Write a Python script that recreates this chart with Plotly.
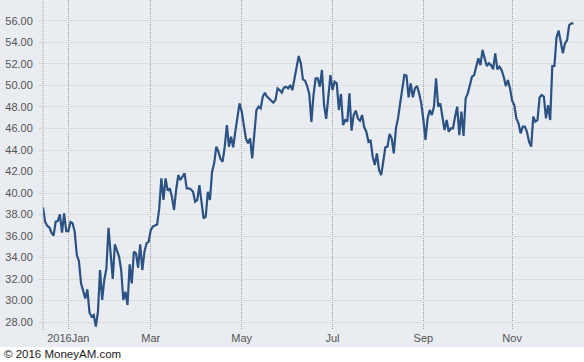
import pandas as pd
import plotly.graph_objects as go

# Market holidays (no trading) in the period
holidays = ["2015-12-25", "2016-01-01", "2016-01-18", "2016-02-15", "2016-03-25",
            "2016-05-30", "2016-07-04", "2016-09-05", "2016-11-24"]

# Closing prices, split in segments between labelled month ticks
prices_dec = [38.67, 37.33, 36.93, 36.81, 36.31, 36.03, 37.33, 37.39, 38.01, 36.31,
              38.11, 36.46, 36.46]
prices_jan_feb = [37.30, 37.18, 36.40, 34.23, 33.67, 31.60, 30.82, 30.20, 31.04, 28.87,
                  28.50, 28.65, 27.57, 28.96, 32.84, 30.05, 31.91, 32.99, 36.77, 34.08,
                  32.00, 35.22, 34.54, 34.08, 32.84, 30.05, 30.82, 29.58, 33.36, 31.60,
                  34.54, 34.39, 33.05, 35.22, 32.84, 34.54, 35.32, 35.47, 36.56]
prices_mar_apr = [36.87, 36.99, 37.08, 38.57, 41.36, 39.35, 41.36, 40.22, 40.43, 39.66,
                  38.42, 40.28, 41.67, 41.21, 41.58, 41.83, 40.43, 40.43, 40.34, 40.12,
                  39.19, 39.35, 40.74, 38.88, 37.64, 37.80, 40.12, 39.35, 41.98, 42.76,
                  44.31, 43.84, 43.16, 42.91, 44.31, 46.32, 44.31, 45.24, 44.25, 45.70,
                  47.10, 48.34, 47.60]
prices_may_jun = [46.17, 45.08, 44.62, 45.08, 43.22, 45.55, 47.72, 48.03, 47.87, 48.96,
                  49.33, 48.96, 48.80, 48.65, 48.40, 48.65, 49.73, 49.58, 49.33, 49.80,
                  49.89, 49.73, 50.04, 49.58, 50.66, 51.44, 52.74, 52.06, 50.57, 50.45,
                  49.95, 49.21, 46.60, 49.11, 50.66, 50.66, 49.89, 51.44, 48.18, 46.90,
                  48.65, 50.97, 49.58]
prices_jul_aug = [50.35, 50.20, 47.72, 49.21, 46.32, 46.79, 46.63, 49.27, 45.80, 47.25,
                  47.66, 46.94, 46.73, 47.25, 46.11, 45.70, 44.77, 44.93, 43.38, 42.60,
                  43.69, 42.14, 41.67, 42.91, 44.25, 44.31, 45.49, 45.08, 43.69, 46.01,
                  46.94, 48.34, 49.73, 50.97, 50.91, 48.90, 50.20, 48.90, 49.73, 49.95,
                  49.27, 48.34, 46.79]
prices_sep_oct = [44.95, 46.94, 47.72, 47.25, 48.03, 50.66, 48.03, 48.34, 47.10, 45.86,
                  46.79, 45.70, 46.01, 46.01, 47.10, 48.03, 45.39, 47.56, 45.30, 48.80,
                  49.27, 50.04, 50.82, 50.97, 51.90, 52.52, 51.90, 53.30, 52.52, 51.81,
                  52.06, 51.90, 51.50, 52.99, 51.50, 51.75, 51.44, 50.82, 49.95, 50.51,
                  49.73, 48.59]
prices_nov_dec = [48.18, 46.94, 46.48, 45.55, 46.17, 46.17, 45.70, 44.77, 44.31, 47.10,
                  46.63, 46.79, 48.90, 49.11, 48.96, 46.94, 48.18, 46.79, 51.81, 51.81,
                  54.48, 55.10, 54.07, 52.99, 53.92, 54.23, 55.62, 55.78, 55.78]

tick_months = [1, 3, 5, 7, 9, 11]
tick_labels = ["2016Jan", "Mar", "May", "Jul", "Sep", "Nov"]
y_ticks = [28, 30, 32, 34, 36, 38, 40, 42, 44, 46, 48, 50, 52, 54, 56]
footer = "© 2016 MoneyAM.com"

prices = (prices_dec + prices_jan_feb + prices_mar_apr + prices_may_jun
          + prices_jul_aug + prices_sep_oct + prices_nov_dec)
dates = pd.bdate_range("2015-12-15", periods=len(prices), freq="C", holidays=holidays)

tick_vals = []
for m in tick_months:
    sel = [d for d in dates if d.year == 2016 and d.month == m]
    tick_vals.append(sel[0])

W, H = 584, 362
ML, MR, MT, MB = 43, 0, 0, 32
plot_h = H - MT - MB
plot_w = W - ML - MR

BG = "#e9ecf1"

fig = go.Figure()
fig.add_trace(go.Scatter(
    x=dates, y=prices, mode="lines",
    line=dict(color="#2b5283", width=2.2),
    hoverinfo="skip", showlegend=False,
))

fig.update_layout(
    width=W, height=H,
    margin=dict(l=ML, r=MR, t=MT, b=MB, pad=0),
    paper_bgcolor=BG, plot_bgcolor=BG,
    font=dict(family="Liberation Sans, Arial, sans-serif", size=11, color="#555555"),
    xaxis=dict(
        type="date",
        range=[dates[0], pd.Timestamp("2016-12-20")],
        rangebreaks=[dict(bounds=["sat", "mon"]), dict(values=holidays)],
        tickmode="array", tickvals=tick_vals, ticktext=tick_labels,
        showgrid=True, gridcolor="#a0a0a0", griddash="1px,1px", gridwidth=1,
        ticks="", showline=False, zeroline=False,
        tickfont=dict(size=11, color="#555555"),
    ),
    yaxis=dict(
        range=[27.26, 57.95],
        tickmode="array", tickvals=y_ticks,
        tickformat=".2f",
        showgrid=True, gridcolor="#dcdcdc", gridwidth=1,
        ticks="outside", ticklen=3, tickcolor="#d0d0d0",
        ticklabelstandoff=4,
        showline=False, zeroline=False,
        tickfont=dict(size=11, color="#555555"),
    ),
    shapes=[
        dict(type="line", xref="paper", yref="paper", x0=0, x1=0, y0=0, y1=1,
             line=dict(color="#a0a0a0", width=1, dash="1px,1px")),
        dict(type="rect", xref="paper", yref="paper", layer="below",
             x0=-ML / plot_w - 0.01, x1=1.01,
             y0=-(MB + 5) / plot_h, y1=-(MB - 15) / plot_h,
             fillcolor="white", line=dict(width=0)),
    ],
    annotations=[
        dict(text=footer, xref="paper", yref="paper",
             x=-(ML - 2) / plot_w, y=-(MB - 8) / plot_h,
             xanchor="left", yanchor="middle", showarrow=False,
             font=dict(family="Liberation Sans, Arial, sans-serif", size=11.5, color="#1a1a1a")),
    ],
)

fig.write_html(
    "out.html",
    config={"displayModeBar": False, "staticPlot": True},
    post_script="document.body.style.margin='0';document.body.style.overflow='hidden';",
)
